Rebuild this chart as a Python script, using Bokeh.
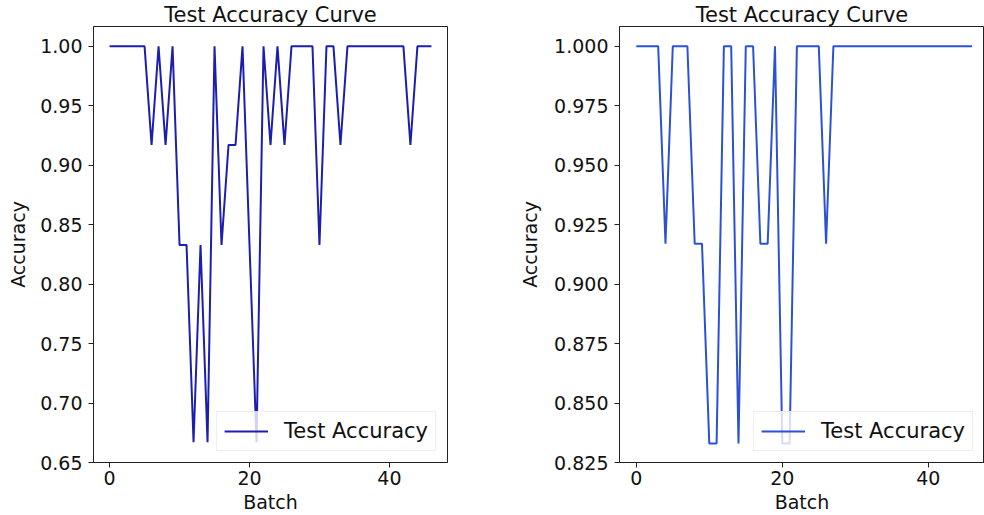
from bokeh.plotting import figure
from bokeh.layouts import row
from bokeh.models import Range1d, FixedTicker, Legend, LegendItem, NumeralTickFormatter
from bokeh.embed import file_html
from bokeh.resources import INLINE

# ---- data ----
batches = list(range(47))
acc_left = [1.0, 1.0, 1.0, 1.0, 1.0, 1.0, 0.917, 1.0, 0.917, 1.0,
            0.833, 0.833, 0.667, 0.833, 0.667, 1.0, 0.833, 0.917, 0.917, 1.0,
            0.833, 0.667, 1.0, 0.917, 1.0, 0.917, 1.0, 1.0, 1.0, 1.0,
            0.833, 1.0, 1.0, 0.917, 1.0, 1.0, 1.0, 1.0, 1.0, 1.0,
            1.0, 1.0, 1.0, 0.917, 1.0, 1.0, 1.0]
acc_right = [1.0, 1.0, 1.0, 1.0, 0.917, 1.0, 1.0, 1.0, 0.917, 0.917,
             0.833, 0.833, 1.0, 1.0, 0.833, 1.0, 1.0, 0.917, 0.917, 1.0,
             0.833, 0.833, 1.0, 1.0, 1.0, 1.0, 0.917, 1.0, 1.0, 1.0,
             1.0, 1.0, 1.0, 1.0, 1.0, 1.0, 1.0, 1.0, 1.0, 1.0,
             1.0, 1.0, 1.0, 1.0, 1.0, 1.0, 1.0]
x_ticks = [0, 20, 40]
y_ticks_left = [0.65, 0.70, 0.75, 0.80, 0.85, 0.90, 0.95, 1.00]
y_ticks_right = [0.825, 0.850, 0.875, 0.900, 0.925, 0.950, 0.975, 1.000]
title_text = "Test Accuracy Curve"
x_label = "Batch"
y_label = "Accuracy"
legend_label = "Test Accuracy"

FONT = "DejaVu Sans"


def make_fig(width, border_left, border_right, xr, yr, yticks, yfmt, ys, color, ylab_standoff):
    p = figure(width=width, height=515, output_backend="svg", toolbar_location=None,
               x_range=Range1d(*xr), y_range=Range1d(*yr),
               min_border_left=border_left, min_border_right=border_right,
               min_border_top=0, min_border_bottom=0)
    p.title.text = title_text
    p.title.align = "center"
    p.title.text_font = FONT
    p.title.text_font_size = "21px"
    p.title.text_font_style = "normal"
    p.title.text_color = "#111111"
    p.title.standoff = 0
    p.grid.visible = False
    p.outline_line_color = "#222222"
    p.outline_line_width = 1
    for ax in (p.xaxis[0], p.yaxis[0]):
        ax.axis_line_color = "#222222"
        ax.major_tick_line_color = "#222222"
        ax.major_tick_out = 5
        ax.major_tick_in = 0
        ax.minor_tick_line_color = None
        ax.major_label_text_font = FONT
        ax.major_label_text_font_size = "19px"
        ax.major_label_text_color = "#111111"
        ax.axis_label_text_font = FONT
        ax.axis_label_text_font_size = "19px"
        ax.axis_label_text_font_style = "normal"
        ax.axis_label_text_color = "#111111"
    p.xaxis.ticker = FixedTicker(ticks=x_ticks)
    p.yaxis.ticker = FixedTicker(ticks=yticks)
    p.yaxis.formatter = NumeralTickFormatter(format=yfmt)
    p.xaxis.axis_label = x_label
    p.yaxis.axis_label = y_label
    p.xaxis.axis_label_standoff = 3
    p.xaxis.major_label_standoff = 3
    p.yaxis.axis_label_standoff = ylab_standoff
    p.yaxis.major_label_standoff = 6
    r = p.line(batches, ys, line_color=color, line_width=2)
    leg = Legend(items=[LegendItem(label=legend_label, renderers=[r])],
                 location="bottom_right")
    leg.label_text_font = FONT
    leg.label_text_font_size = "21px"
    leg.label_text_color = "#111111"
    leg.glyph_width = 44
    leg.label_standoff = 16
    leg.background_fill_alpha = 0.8
    leg.border_line_color = "#dddddd"
    leg.margin = 11
    leg.padding = 7
    p.add_layout(leg)
    return p


p1 = make_fig(480, 93, 33, (-2.3, 48.3), (0.65, 1.0167), y_ticks_left, "0.00",
              acc_left, "#1c1fae", 8)
p2 = make_fig(504, 139, 0, (-2.3, 47.7), (0.825, 1.00833), y_ticks_right, "0.000",
              acc_right, "#2b52d4", 10)

layout = row(p1, p2)
open("out.html", "w").write(file_html(layout, INLINE))
